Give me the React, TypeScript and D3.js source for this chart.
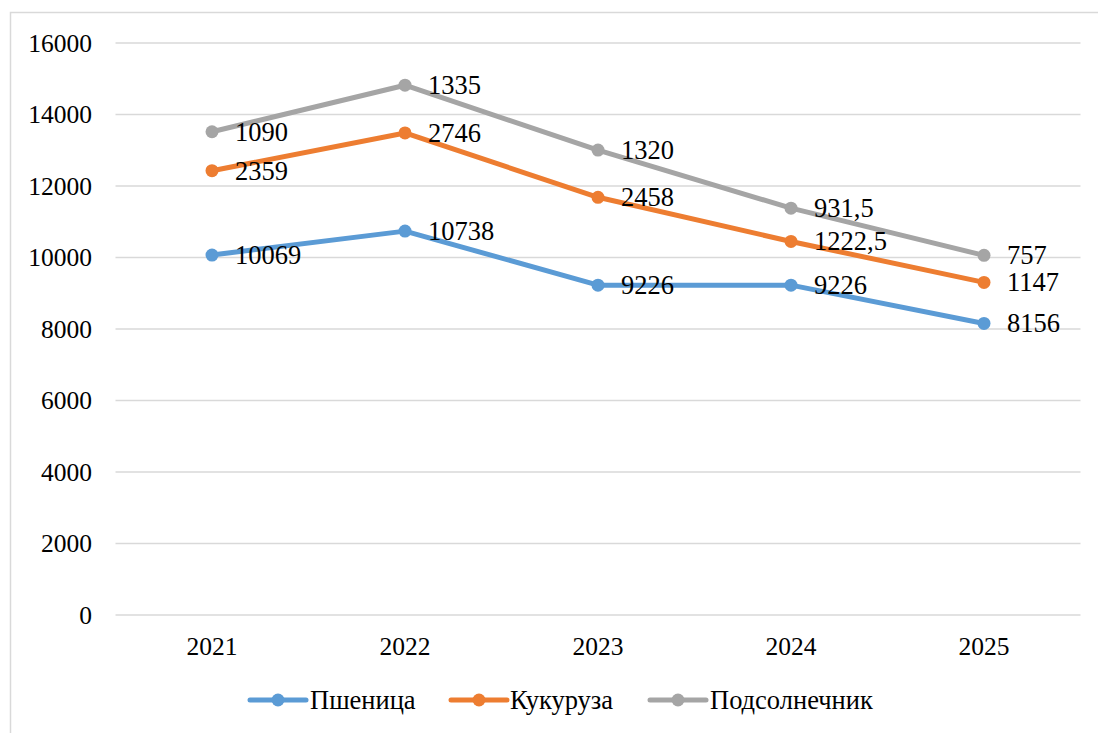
import React from "react";
import * as d3 from "d3";

const years = ["2021", "2022", "2023", "2024", "2025"];
const wheat = [10069, 10738, 9226, 9226, 8156];
const corn = [2359, 2746, 2458, 1222.5, 1147];
const sunflower = [1090, 1335, 1320, 931.5, 757];
const seriesNames = ["Пшеница", "Кукуруза", "Подсолнечник"];
const colors = ["#5b9bd5", "#ed7d31", "#a5a5a5"];
const yTicks = [0, 2000, 4000, 6000, 8000, 10000, 12000, 14000, 16000];

const W = 1098;
const H = 733;
const FONT = "Liberation Serif";

function fmt(v: number) {
  return String(v).replace(".", ",");
}

export default function App() {
  const x = d3.scalePoint<string>().domain(years).range([115.5, 1080.5]).padding(0.5);
  const y = d3.scaleLinear().domain([0, 16000]).range([615, 43]);

  const raw = [wheat, corn, sunflower];
  const stacked: number[][] = [];
  raw.forEach((s, i) => {
    stacked.push(s.map((v, j) => v + (i > 0 ? stacked[i - 1][j] : 0)));
  });

  const line = d3
    .line<number>()
    .x((_, j) => x(years[j]) as number)
    .y((d) => y(d));

  const legendItems = [
    { lx: 250, tx: 310 },
    { lx: 451, tx: 510 },
    { lx: 650, tx: 710 },
  ];

  const ts = { fontFamily: FONT };

  return (
    <svg
      width={W}
      height={H}
      style={{ position: "absolute", left: 0, top: 0, background: "#fff" }}
    >
      <rect x={10.5} y={12.5} width={1200} height={800} fill="#fff" stroke="#d9d9d9" strokeWidth={1.5} />
      {yTicks.map((t) => (
        <g key={t}>
          <line x1={115.5} x2={1080.5} y1={y(t)} y2={y(t)} stroke="#d9d9d9" strokeWidth={1.5} />
          <text x={92} y={y(t)} dy="0.34em" textAnchor="end" fontSize={25.5} fill="#000" style={ts}>
            {t}
          </text>
        </g>
      ))}
      {years.map((yr) => (
        <text key={yr} x={x(yr)} y={655} textAnchor="middle" fontSize={25.5} fill="#000" style={ts}>
          {yr}
        </text>
      ))}
      {stacked.map((s, i) => (
        <g key={i}>
          <path d={line(s) || ""} fill="none" stroke={colors[i]} strokeWidth={5} strokeLinejoin="round" />
          {s.map((v, j) => (
            <circle key={j} cx={x(years[j])} cy={y(v)} r={6.5} fill={colors[i]} />
          ))}
        </g>
      ))}
      {stacked.map((s, i) =>
        s.map((v, j) => (
          <text key={`${i}-${j}`} x={(x(years[j]) as number) + 23} y={y(v) + 9} fontSize={26.5} fill="#000" style={ts}>
            {fmt(raw[i][j])}
          </text>
        ))
      )}
      {seriesNames.map((n, i) => (
        <g key={n}>
          <line x1={legendItems[i].lx} x2={legendItems[i].lx + 56} y1={700} y2={700} stroke={colors[i]} strokeWidth={5} strokeLinecap="round" />
          <circle cx={legendItems[i].lx + 28} cy={700} r={6.5} fill={colors[i]} />
          <text x={legendItems[i].tx} y={700} dy="0.34em" fontSize={26.5} fill="#000" style={ts}>
            {n}
          </text>
        </g>
      ))}
    </svg>
  );
}
